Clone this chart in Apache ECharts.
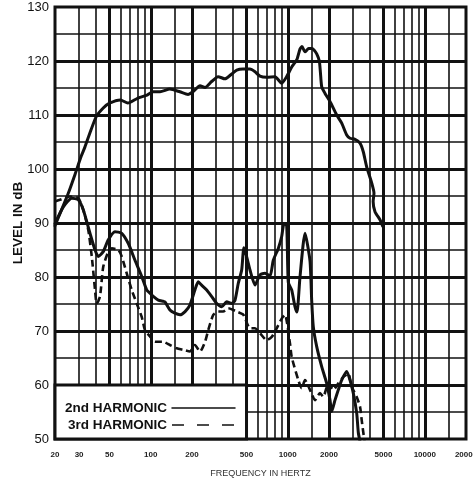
<!DOCTYPE html>
<html><head><meta charset="utf-8">
<script src="https://cdn.jsdelivr.net/npm/echarts@6/dist/echarts.min.js"></script>
<style>html,body{margin:0;padding:0;background:#fff}#c{width:473px;height:485px}</style>
</head><body><div id="c"></div>
<script>
// ---- tick labels & grid lines ----
const xTickLabels = [20, 30, 50, 100, 200, 500, 1000, 2000, 5000, 10000, 20000];
const yTickLabels = [50, 60, 70, 80, 90, 100, 110, 120, 130];
const xGridThin = [30, 40, 60, 70, 80, 90, 150, 300, 400, 600, 700, 800, 900, 1500, 3000, 4000, 6000, 7000, 8000, 9000, 15000];
const xGridThick = [50, 100, 200, 500, 1000, 2000, 5000, 10000];
const yGridThin = [55, 65, 75, 85, 95, 105, 115, 125];
const yGridThick = [60, 70, 80, 90, 100, 110, 120];

// ---- fundamental ----
const fundFreq = [20, 25, 28, 31, 33, 36, 40, 45, 50, 60, 68, 80, 94, 104, 117, 138, 163, 187, 203, 229, 249, 278, 310, 348, 390, 424, 471, 530, 577, 627, 702, 807, 903, 982, 1069, 1162, 1228, 1270, 1336, 1420, 1496, 1560, 1627, 1700, 1730, 1770, 1870, 2033, 2276, 2476, 2693, 2846, 3096, 3367, 3558, 3768, 4100, 4260, 4200, 4333, 4713, 4932];
const fundDb = [89.5, 95.5, 99, 102.3, 104, 106.7, 109.7, 111.3, 112.2, 112.8, 112.2, 113.1, 113.7, 114.3, 114.3, 114.8, 114.3, 113.8, 114.3, 115.4, 115.1, 116.2, 117.1, 116.7, 117.6, 118.3, 118.5, 118.5, 118.0, 117.2, 117.0, 117.1, 115.9, 117.1, 118.9, 120.2, 122.2, 122.7, 121.7, 122.3, 122.3, 122, 121.3, 120, 118, 115.2, 114, 112.5, 110, 108.5, 106.3, 105.7, 105.5, 104.8, 103.2, 100.4, 97.4, 95.5, 94, 92.1, 90.6, 89.4];

// ---- 2nd harmonic ----
const h2Freq = [20, 23, 26.5, 29.6, 32.2, 36, 39.2, 41.4, 45, 49, 54.8, 61.4, 68.6, 76.7, 85.9, 93.4, 98.7, 104.3, 113.5, 123.4, 127, 138, 150, 163.5, 178, 193, 210, 222, 235, 256, 278, 303, 330, 358, 390, 412, 435, 461, 479, 530, 577, 627, 682, 742, 784, 853, 903, 939, 982, 1009, 1068, 1129, 1168, 1228, 1336, 1453, 1495, 1536, 1627, 1769, 1924, 2034, 2093, 2212, 2338, 2475, 2693, 2847, 3009, 3186, 3273, 3368];
const h2Db = [89.9, 93, 94.6, 94.3, 92.4, 88.1, 85, 83.8, 84.7, 86.9, 88.4, 88.1, 86.2, 83.1, 80.1, 77.6, 77, 76.4, 75.7, 75.5, 75.4, 73.9, 73.3, 73, 73.6, 74.8, 77.6, 79.1, 78.5, 77.6, 76.4, 75.1, 74.5, 75.4, 75.1, 75.7, 78.8, 81.3, 85.4, 81.3, 78.5, 80.4, 80.7, 80.2, 83.1, 85.3, 87.5, 89.9, 89.5, 79, 77.6, 74.5, 73.5, 80, 88.1, 83, 75.7, 70.8, 67.1, 63.4, 60.3, 57.2, 55.1, 57.2, 59.1, 60.9, 62.5, 60.9, 58.5, 54.8, 51.2, 49.5];

// ---- 3rd harmonic ----
const h3Freq = [20, 21.75, 25.7, 29.6, 32.2, 35, 37.1, 39.2, 40.3, 42.6, 45, 49, 51.9, 58, 61.4, 66.7, 72.6, 79, 85.9, 90.8, 98.7, 107.4, 123.4, 138, 154.6, 172.8, 193.4, 210, 229, 249, 263, 286, 311, 338, 368, 400, 424, 474, 530, 577, 627, 702, 764, 830, 903, 955, 1038, 1068, 1194, 1264, 1336, 1453, 1581, 1719, 1817, 1977, 2150, 2338, 2543, 2767, 2929, 3186, 3368, 3465, 3560, 3663];
const h3Db = [94, 94.3, 94.9, 94.6, 92.4, 88.7, 83.8, 77.6, 75.1, 76.4, 81.9, 84.7, 85.3, 85, 83.8, 80.7, 77.6, 75.1, 72.6, 70.2, 69, 68, 68, 67.4, 66.8, 66.5, 66.2, 67.4, 66.2, 68, 70.2, 73, 73.6, 73.6, 74.2, 73.9, 73.6, 73, 70.5, 70.5, 69.6, 68.3, 68.9, 70.5, 72.3, 73, 67.7, 65.2, 60.9, 59.4, 60.9, 59.1, 57.2, 58.5, 57.8, 60.3, 59.1, 60.3, 61.5, 62.1, 59.7, 57.8, 56, 53.5, 51.2, 49];

const INK = '#111';
const FONT = 'Liberation Sans, Arial, sans-serif';
const zip = (a, b) => a.map((v, i) => [v, b[i]]);

const gridLines = []
  .concat(xGridThin.map(v => ({ xAxis: v, lineStyle: { width: 1.6 } })))
  .concat(xGridThick.map(v => ({ xAxis: v, lineStyle: { width: 3 } })))
  .concat(yGridThin.map(v => ({ yAxis: v, lineStyle: { width: 1.6 } })))
  .concat(yGridThick.map(v => ({ yAxis: v, lineStyle: { width: 2.8 } })));

const chart = echarts.init(document.getElementById('c'), null, { renderer: 'canvas' });
const curveStyle = { color: INK, width: 3, cap: 'round', join: 'round' };
const hiddenSymbol = { color: 'rgba(0,0,0,0)', opacity: 0, borderWidth: 0 };

chart.setOption({
  animation: false,
  backgroundColor: '#fff',
  color: [INK, INK, INK],
  grid: { left: 55, top: 7, width: 411, height: 432, show: true, borderColor: INK, borderWidth: 3, backgroundColor: '#fff', containLabel: false, outerBoundsMode: 'none' },
  xAxis: {
    type: 'log', logBase: 10, min: 20, max: 20000,
    axisLine: { show: false }, axisTick: { show: false }, splitLine: { show: false },
    axisLabel: { customValues: xTickLabels, formatter: v => String(Math.round(v)), fontSize: 8, fontWeight: 'bold', color: '#222', margin: 12, fontFamily: FONT },
    name: 'FREQUENCY IN HERTZ', nameLocation: 'middle', nameGap: 30, nameMoveOverlap: false,
    nameTextStyle: { fontSize: 9, color: '#333', fontFamily: FONT }
  },
  yAxis: {
    type: 'value', min: 50, max: 130, interval: 10,
    axisLine: { show: false }, axisTick: { show: false }, splitLine: { show: false },
    axisLabel: { customValues: yTickLabels, fontSize: 13, color: INK, margin: 6, fontFamily: FONT },
    name: 'LEVEL IN dB', nameLocation: 'middle', nameGap: 30, nameRotate: 90, nameMoveOverlap: false,
    nameTextStyle: { fontSize: 13.5, fontWeight: 'bold', color: INK, fontFamily: FONT }
  },
  legend: {
    orient: 'vertical', align: 'right', left: 65, top: 401, padding: 0, z: 10,
    itemWidth: 63, itemHeight: 14, itemGap: 3,
    textStyle: { fontSize: 13.5, fontWeight: 'bold', color: INK, fontFamily: FONT },
    data: [
      { name: '2nd HARMONIC', itemStyle: hiddenSymbol, lineStyle: { color: INK, width: 1.5, type: 'solid' } },
      { name: '3rd HARMONIC', itemStyle: hiddenSymbol, lineStyle: { color: INK, width: 1.7, type: [12, 13] } }
    ]
  },
  series: [
    {
      name: 'fundamental', type: 'line', data: zip(fundFreq, fundDb), symbol: 'none', smooth: 0.2,
      lineStyle: curveStyle, itemStyle: { color: INK }, silent: true, z: 2,
      markLine: { silent: true, z: 1, symbol: ['none', 'none'], label: { show: false },
        lineStyle: { color: INK, type: 'solid' }, data: gridLines, animation: false }
    },
    { name: '2nd HARMONIC', type: 'line', data: zip(h2Freq, h2Db), symbol: 'none', smooth: 0.2,
      lineStyle: curveStyle, itemStyle: { color: INK }, silent: true, z: 2 },
    { name: '3rd HARMONIC', type: 'line', data: zip(h3Freq, h3Db), symbol: 'none', smooth: 0.2,
      lineStyle: { color: INK, width: 2.6, type: [7, 4], cap: 'butt', join: 'round' }, itemStyle: { color: INK }, silent: true, z: 2 }
  ]
});

// legend box: white panel bounded by the 500 Hz and 60 dB lines
const p0 = chart.convertToPixel({ xAxisIndex: 0, yAxisIndex: 0 }, [20, 60]);
const p1 = chart.convertToPixel({ xAxisIndex: 0, yAxisIndex: 0 }, [500, 50]);
chart.setOption({
  graphic: [{
    type: 'rect', z: 3, silent: true,
    shape: { x: p0[0], y: p0[1], width: p1[0] - p0[0], height: p1[1] - p0[1] },
    style: { fill: '#fff', stroke: INK, lineWidth: 3 }
  }]
});
</script></body></html>
